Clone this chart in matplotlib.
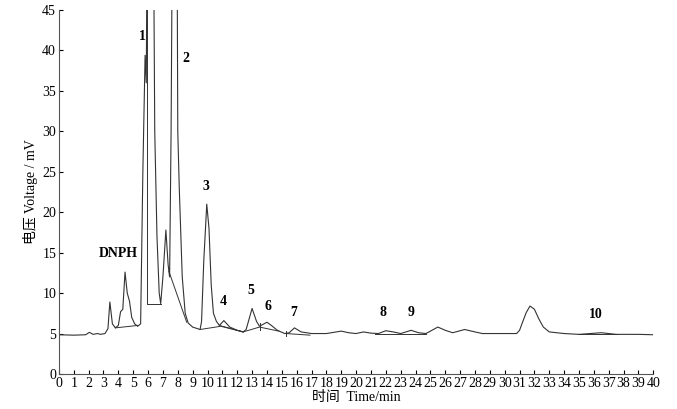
import numpy as np
import matplotlib.pyplot as plt

plt.rcParams['font.family'] = ['Liberation Serif', 'Noto Sans CJK SC']

# chromatogram trace (time in min, voltage in mV)
time = [0, 1.0, 1.8, 2.05, 2.3, 2.6, 2.8, 3.1, 3.3, 3.43, 3.6, 3.8, 4.0, 4.15, 4.3, 4.45,
        4.6, 4.75, 4.9, 5.1, 5.3, 5.5, 5.65, 5.8, 5.88, 5.95, 6.1, 6.35, 6.45, 6.6, 6.75,
        6.85, 7.0, 7.2, 7.35, 7.45, 7.55, 7.65, 7.9, 8.0, 8.1, 8.3, 8.5, 8.7, 9.0, 9.5,
        9.6, 9.75, 9.95, 10.1, 10.25, 10.4, 10.6, 10.8, 11.1, 11.5, 12.0, 12.4, 12.6,
        13.0, 13.3, 13.5, 14.0, 14.3, 14.7, 15.2, 15.5, 15.85, 16.3, 17.0, 18.0, 19.0,
        19.5, 20.0, 20.5, 21.0, 21.5, 22.0, 22.5, 23.0, 23.7, 24.2, 24.7, 25.1, 25.5,
        26.0, 26.5, 27.3, 28.0, 28.5, 30.0, 30.8, 31.0, 31.2, 31.45, 31.7, 32.0, 32.3,
        32.6, 33.0, 34.0, 35.0, 36.5, 37.5, 39.0, 40.0]
voltage = [4.85, 4.8, 4.85, 5.15, 4.9, 5.0, 4.9, 5.0, 5.6, 8.9, 6.2, 5.7, 6.0, 7.7, 8.0,
           12.6, 10.0, 9.0, 7.0, 6.2, 5.9, 6.2, 25.0, 39.4, 36.0, 60.0, 80.0, 60.0, 30.0,
           17.0, 10.0, 8.7, 12.0, 17.8, 13.5, 12.0, 30.0, 60.0, 80.0, 30.0, 23.0, 12.0,
           7.5, 6.3, 5.8, 5.5, 6.5, 14.0, 21.0, 18.0, 11.0, 7.5, 6.5, 6.0, 6.6, 5.8,
           5.4, 5.2, 5.5, 8.1, 6.5, 5.9, 6.4, 6.0, 5.4, 5.0, 5.1, 5.7, 5.2, 5.0, 5.0,
           5.3, 5.1, 5.0, 5.2, 5.05, 5.0, 5.35, 5.2, 5.0, 5.4, 5.1, 5.0, 5.4, 5.8, 5.4,
           5.1, 5.5, 5.2, 5.0, 5.0, 5.0, 5.4, 6.4, 7.6, 8.4, 8.0, 6.8, 5.8, 5.2, 5.0,
           4.9, 5.1, 4.9, 4.9, 4.85]

# integration baselines drawn under the peaks
base_lines = [
    ([3.8, 5.3], [5.7, 6.0]),
    ([5.95, 5.95, 6.85], [45.0, 8.7, 8.7]),
    ([7.4, 8.6], [12.7, 6.4]),
    ([9.5, 10.9, 12.4], [5.5, 5.9, 5.2]),
    ([10.8, 12.4], [6.0, 5.2]),
    ([12.4, 13.5, 14.8], [5.2, 5.8, 5.3]),
    ([13.5, 13.5], [5.4, 6.3]),
    ([15.3, 15.3], [4.7, 5.3]),
    ([15.3, 16.9], [5.0, 4.8]),
    ([21.3, 24.7], [5.0, 5.0]),
    ([34.9, 37.6], [4.95, 4.95]),
]

peak_labels = ['DNPH', '1', '2', '3', '4', '5', '6', '7', '8', '9', '10']
label_t = [4.0, 5.6, 8.55, 9.9, 11.05, 12.9, 14.05, 15.8, 21.8, 23.7, 36.1]
label_v = [14.1, 40.9, 38.2, 22.4, 8.1, 9.5, 7.6, 6.8, 6.8, 6.8, 6.5]

fig = plt.figure(figsize=(6.77, 4.09), dpi=100)
ax = fig.add_axes([0.087, 0.0856, 0.878, 0.89])

ax.plot(time, voltage, color='#333333', lw=0.8)
for xs, ys in base_lines:
    ax.plot(xs, ys, color='#333333', lw=0.7)

for lab, t, v in zip(peak_labels, label_t, label_v):
    ax.text(t, v, lab, ha='center', va='bottom', fontsize=10, fontweight='bold')

ax.set_xlim(0, 40)
ax.set_ylim(0, 45)
ax.set_xticks(np.arange(0, 41, 1))
ax.set_yticks(np.arange(0, 46, 5))
ax.tick_params(direction='in', length=3, labelsize=10, pad=2)
ax.spines['top'].set_visible(False)
ax.spines['right'].set_visible(False)
for s in ['left', 'bottom']:
    ax.spines[s].set_color('#555555')
    ax.spines[s].set_linewidth(0.8)

ax.set_xlabel('时间  Time/min', fontsize=10, labelpad=1)
ax.set_ylabel('电压 Voltage / mV', fontsize=10, labelpad=3)

fig.savefig('out.png', dpi=100)
